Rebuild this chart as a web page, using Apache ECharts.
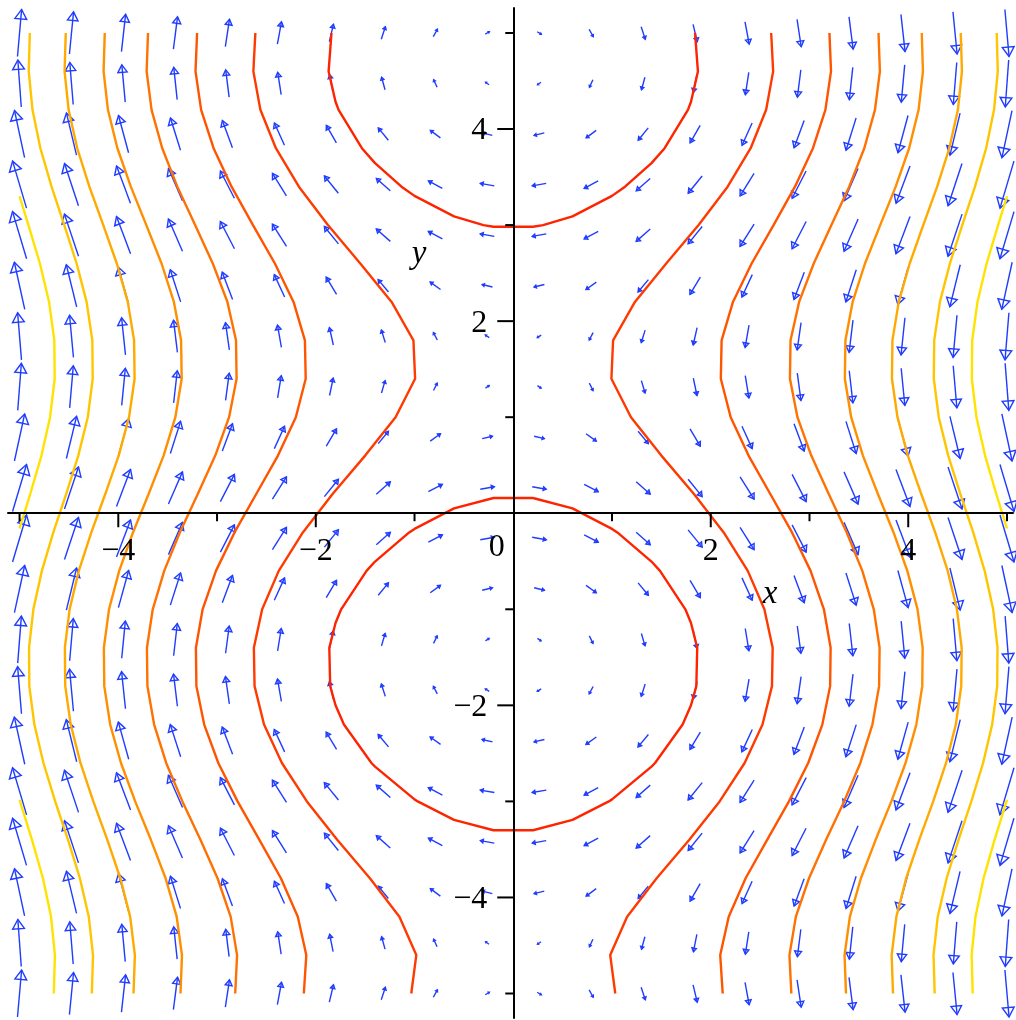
<!DOCTYPE html>
<html><head><meta charset="utf-8">
<script src="https://cdn.jsdelivr.net/npm/echarts@6/dist/echarts.min.js"></script>
<style>html,body{margin:0;padding:0;background:#fff}#c{width:1016px;height:1020px}</style>
</head><body><div id="c"></div>
<script>
// ---------- arrow field: 20 x 20 grid ----------
const arrowXs = [-5, -4.474, -3.947, -3.421, -2.895, -2.368, -1.842, -1.316, -0.789, -0.263,
                 0.263, 0.789, 1.316, 1.842, 2.368, 2.895, 3.421, 3.947, 4.474, 5];
const arrowYs = [-5, -4.474, -3.947, -3.421, -2.895, -2.368, -1.842, -1.316, -0.789, -0.263,
                 0.263, 0.789, 1.316, 1.842, 2.368, 2.895, 3.421, 3.947, 4.474, 5];
// horizontal component of the arrows in each row (indexed like arrowYs)
const arrowU = [0.284, -0.236, -0.693, -0.961, -0.970, -0.715, -0.268, 0.252, 0.705, 0.966,
                0.966, 0.705, 0.252, -0.268, -0.715, -0.970, -0.961, -0.693, -0.236, 0.284];
// vertical component of the arrows in each column (indexed like arrowXs)
const arrowV = [3.333, 2.982, 2.632, 2.281, 1.930, 1.579, 1.228, 0.877, 0.526, 0.175,
                -0.175, -0.526, -0.877, -1.228, -1.579, -1.930, -2.281, -2.632, -2.982, -3.333];

// ---------- contour lines (right half; the picture is mirror-symmetric in x) ----------
const contourYs = [-5, -4.6, -4.2, -3.8, -3.4, -3, -2.6, -2.2, -1.8, -1.4, -1, -0.6, -0.2,
                   0.2, 0.6, 1, 1.4, 1.8, 2.2, 2.6, 3, 3.4, 3.8, 4.2, 4.6, 5];
const level2X = [1.033, 0.982, 1.153, 1.452, 1.783, 2.090, 2.343, 2.524, 2.620, 2.627, 2.543, 2.375, 2.131,
                 1.830, 1.500, 1.192, 0.994, 1.011, 1.232, 1.549, 1.877, 2.171, 2.404, 2.561, 2.632, 2.612];
const level3X = [2.121, 2.096, 2.182, 2.353, 2.571, 2.792, 2.987, 3.130, 3.209, 3.214, 3.146, 3.011, 2.823,
                 2.603, 2.383, 2.202, 2.102, 2.110, 2.225, 2.414, 2.636, 2.853, 3.035, 3.161, 3.218, 3.202];
const level4X = [2.816, 2.797, 2.862, 2.995, 3.168, 3.351, 3.515, 3.637, 3.705, 3.710, 3.651, 3.535, 3.377,
                 3.195, 3.018, 2.878, 2.802, 2.808, 2.895, 3.043, 3.222, 3.402, 3.555, 3.663, 3.713, 3.699];
const level5X = [3.370, 3.355, 3.409, 3.521, 3.670, 3.829, 3.973, 4.082, 4.142, 4.146, 4.094, 3.991, 3.851,
                 3.693, 3.541, 3.422, 3.358, 3.364, 3.437, 3.562, 3.716, 3.873, 4.009, 4.105, 4.149, 4.137];
const level6X = [3.846, 3.832, 3.880, 3.979, 4.111, 4.253, 4.383, 4.482, 4.537, 4.541, 4.493, 4.400, 4.273,
                 4.132, 3.996, 3.891, 3.835, 3.840, 3.904, 4.015, 4.152, 4.293, 4.416, 4.503, 4.544, 4.532];
const level7X = [4.268, 4.256, 4.299, 4.389, 4.509, 4.639, 4.758, 4.850, 4.901, 4.904, 4.860, 4.774, 4.658,
                 4.528, 4.405, 4.309, 4.259, 4.263, 4.321, 4.422, 4.547, 4.676, 4.789, 4.869, 4.907, 4.896];
// level 8 leaves the frame, so it comes in two pieces
const level8Upper = [[5.0, -0.159], [4.892, 0.2], [4.778, 0.6], [4.691, 1.0], [4.644, 1.4], [4.648, 1.8],
                     [4.701, 2.2], [4.794, 2.6], [4.910, 3.0], [5.0, 3.300]];
const level8Lower = [[4.653, -5], [4.642, -4.6], [4.681, -4.2], [4.763, -3.8], [4.874, -3.4], [4.995, -3.0], [5.0, -2.983]];
// level 1: closed loop below, open loop at the top (right halves)
const loopLower = [[0.2, 0.159], [0.6, 0.051], [1.0, -0.163], [1.054, -0.2], [1.4, -0.503], [1.486, -0.6],
                   [1.743, -1.0], [1.8, -1.142], [1.863, -1.4], [1.854, -1.8], [1.8, -1.999], [1.715, -2.2],
                   [1.436, -2.6], [1.4, -2.638], [1.0, -2.979], [0.968, -3.0], [0.6, -3.193], [0.2, -3.300]];
const loopUpper = [[0.2, 2.983], [0.302, 3.0], [0.6, 3.090], [1.0, 3.304], [1.132, 3.4], [1.4, 3.645],
                   [1.533, 3.8], [1.769, 4.2], [1.8, 4.284], [1.870, 4.6], [1.841, 5.0]];
const levelColors = ['#ff2400', '#ff3a00', '#ff5500', '#ff7100', '#ff8e00', '#ffaa00', '#ffc600', '#ffe300'];

// ---------- axes ----------
const xTickMajor = [-4, -2, 2, 4];
const xTickMinor = [-5, -3, -1, 1, 3, 5];
const yTickMajor = [-4, -2, 2, 4];
const yTickMinor = [-5, -3, -1, 1, 3, 5];
const xTickLabels = [-4, -2, 0, 2, 4];
const yTickLabels = [-4, -2, 2, 4];

const FONT = '"Liberation Serif", "Times New Roman", serif';
const ARROW = '#1f3cff';
const ARROW_SCALE = 0.147;

const mirror = pts => pts.map(p => [-p[0], p[1]]);
function curve(pts, color) {
  return { type: 'line', data: pts, symbol: 'none', showSymbol: false, smooth: false,
           lineStyle: { color: color, width: 2.4 }, z: 4, silent: true, animation: false, clip: true };
}
const series = [];

// arrows
const arrowData = [];
arrowYs.forEach((y, j) => arrowXs.forEach((x, i) => arrowData.push([x, y, arrowU[j], arrowV[i]])));
series.push({
  type: 'custom', coordinateSystem: 'cartesian2d', data: arrowData, z: 2, silent: true, animation: false,
  encode: { x: 0, y: 1 },
  renderItem: function (params, api) {
    const x = api.value(0), y = api.value(1), u = api.value(2), v = api.value(3);
    const a = api.coord([x - u * ARROW_SCALE / 2, y - v * ARROW_SCALE / 2]);
    const b = api.coord([x + u * ARROW_SCALE / 2, y + v * ARROW_SCALE / 2]);
    const dx = b[0] - a[0], dy = b[1] - a[1];
    const L = Math.hypot(dx, dy) || 1;
    const ux = dx / L, uy = dy / L, h = 0.2 * L, w = 0.125 * L;
    const bx = b[0] - ux * h, by = b[1] - uy * h;
    return { type: 'group', children: [
      { type: 'line', shape: { x1: a[0], y1: a[1], x2: b[0], y2: b[1] }, style: { stroke: ARROW, lineWidth: 1.4 } },
      { type: 'polygon', shape: { points: [[b[0], b[1]], [bx - uy * w, by + ux * w], [bx + uy * w, by - ux * w]] },
        style: { stroke: ARROW, fill: 'none', lineWidth: 1.4 } }
    ] };
  }
});

// contour curves
const loopL = loopLower.concat(mirror(loopLower).reverse(), [loopLower[0]]);
series.push(curve(loopL, levelColors[0]));
series.push(curve(mirror(loopUpper).reverse().concat(loopUpper), levelColors[0]));
[level2X, level3X, level4X, level5X, level6X, level7X].forEach((xs, k) => {
  const right = contourYs.map((y, j) => [xs[j], y]);
  series.push(curve(right, levelColors[k + 1]));
  series.push(curve(mirror(right), levelColors[k + 1]));
});
[level8Upper, level8Lower].forEach(p => {
  series.push(curve(p, levelColors[7]));
  series.push(curve(mirror(p), levelColors[7]));
});

// ticks: [x, y, kind]  kind 0 = x tick, 1 = y tick; 4th value = length
const ticks = xTickMinor.map(v => [v, 0, 0, 8]).concat(yTickMinor.map(v => [0, v, 1, 8]),
              xTickMajor.map(v => [v, 0, 0, 14]), yTickMajor.map(v => [0, v, 1, 16]));
series.push({
  type: 'custom', coordinateSystem: 'cartesian2d', data: ticks, z: 6, silent: true, animation: false,
  encode: { x: 0, y: 1 },
  renderItem: function (params, api) {
    const p = api.coord([api.value(0), api.value(1)]);
    const len = api.value(3);
    const vert = api.value(2) === 0;
    return { type: 'line',
      shape: vert ? { x1: p[0], y1: p[1], x2: p[0], y2: p[1] + len } : { x1: p[0], y1: p[1], x2: p[0] - len, y2: p[1] },
      style: { stroke: '#000', lineWidth: 2 } };
  }
});

// tick labels
const fmt = v => v < 0 ? '\u2212' + Math.abs(v) : String(v);
const labels = xTickLabels.map(v => [v, 0, 0]).concat(yTickLabels.map(v => [0, v, 1]));
series.push({
  type: 'custom', coordinateSystem: 'cartesian2d', data: labels, z: 7, silent: true, animation: false,
  encode: { x: 0, y: 1 },
  renderItem: function (params, api) {
    const xv = api.value(0), yv = api.value(1), kind = api.value(2);
    const p = api.coord([xv, yv]);
    let x, y, align;
    if (kind === 0) {
      if (xv === 0) { x = p[0] - 16.5; y = p[1] + 34; } else { x = p[0]; y = p[1] + 38; }
      align = 'center';
    } else { x = p[0] - 26; y = p[1] + 2; align = 'right'; }
    return { type: 'text', x: x, y: y,
      style: { text: fmt(kind === 0 ? xv : yv), font: '32px ' + FONT, fill: '#000',
               align: align, verticalAlign: 'middle', textAlign: align, textVerticalAlign: 'middle' } };
  }
});

const chart = echarts.init(document.getElementById('c'), null, { renderer: 'canvas' });
chart.setOption({
  backgroundColor: '#ffffff',
  animation: false,
  grid: { left: 8, top: 8, width: 1005, height: 1010, containLabel: false, outerBoundsMode: 'none' },
  xAxis: {
    type: 'value', min: -5.117, max: 5.061, z: 5,
    axisLine: { onZero: true, lineStyle: { color: '#000', width: 2 } },
    axisTick: { show: false }, axisLabel: { show: false },
    splitLine: { show: false }
  },
  yAxis: {
    type: 'value', min: -5.255, max: 5.260, z: 5,
    axisLine: { onZero: true, lineStyle: { color: '#000', width: 2 } },
    axisTick: { show: false }, axisLabel: { show: false },
    splitLine: { show: false }
  },
  graphic: [
    { type: 'text', x: 770, y: 594, z: 10,
      style: { text: 'x', font: 'italic 33px ' + FONT, fill: '#000', align: 'center', verticalAlign: 'middle', textAlign: 'center', textVerticalAlign: 'middle' } },
    { type: 'text', x: 419, y: 254, z: 10,
      style: { text: 'y', font: 'italic 33px ' + FONT, fill: '#000', align: 'center', verticalAlign: 'middle', textAlign: 'center', textVerticalAlign: 'middle' } }
  ],
  series: series
});
</script>
</body></html>
